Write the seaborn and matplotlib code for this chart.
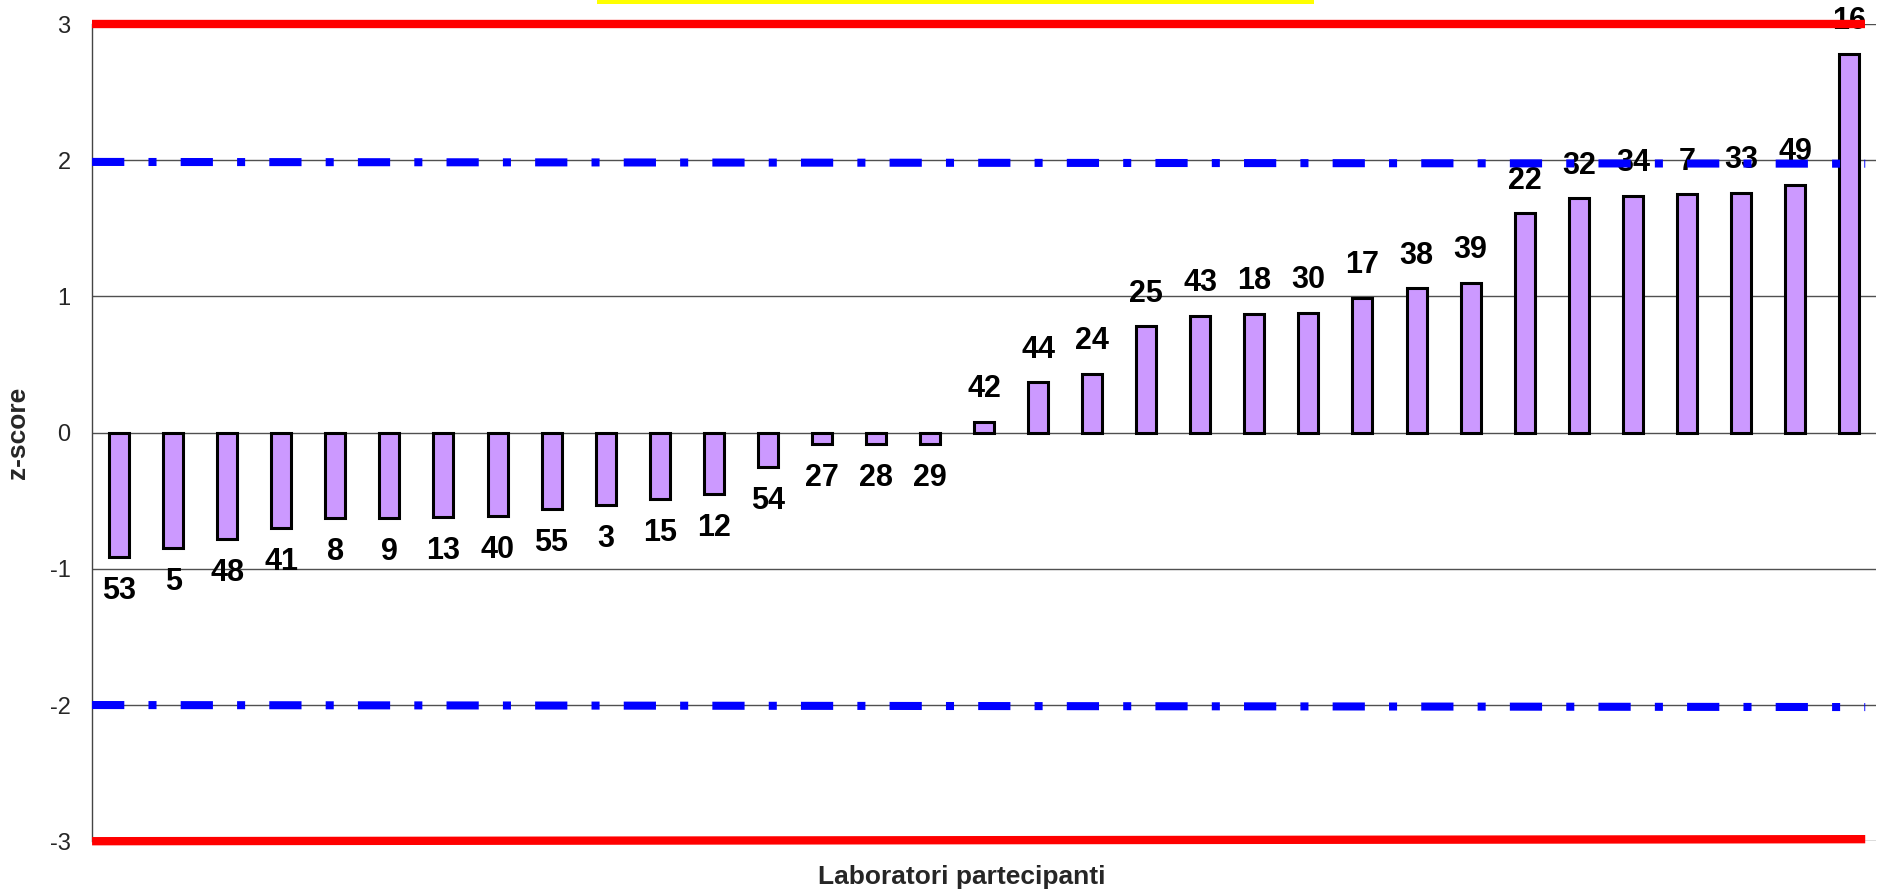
import pandas as pd
import seaborn as sns
import matplotlib.pyplot as plt
from matplotlib.patches import Rectangle

# Dati: codici laboratorio e z-score (ordinati)
labs = ["53", "5", "48", "41", "8", "9", "13", "40", "55", "3", "15", "12", "54",
        "27", "28", "29", "42", "44", "24", "25", "43", "18", "30", "17", "38",
        "39", "22", "32", "34", "7", "33", "49", "16"]
zscores = [-0.91, -0.85, -0.78, -0.70, -0.63, -0.63, -0.62, -0.61, -0.56, -0.53,
           -0.49, -0.45, -0.25, -0.08, -0.08, -0.08, 0.08, 0.37, 0.43, 0.78,
           0.86, 0.87, 0.88, 0.99, 1.06, 1.10, 1.61, 1.72, 1.74, 1.75, 1.76,
           1.82, 2.78]
yticks = [-3, -2, -1, 0, 1, 2, 3]
# limiti (estremo sinistro, estremo destro), leggermente inclinati come nell'originale
warn_upper = [1.988, 1.975]
warn_lower = [-2.0, -2.015]
action_upper = [3.0, 3.0]
action_lower = [-3.0, -2.985]


def create_chart(df):
    sns.set_style("white")
    plt.rcParams['font.family'] = ['Liberation Sans', 'DejaVu Sans']

    fig = plt.figure(figsize=(18.83, 8.93), dpi=100)
    ax = fig.add_axes([0.0489, 0.058, 0.9474, 0.915])

    # griglia orizzontale
    for y in yticks:
        ax.axhline(y, color="#505050", linewidth=1.0, zorder=0)

    sns.barplot(data=df, x="lab", y="z", color="#CC99FF", saturation=1,
                edgecolor="black", linewidth=2.2, width=0.37, ax=ax, zorder=2)

    # etichette dei laboratori
    for i, (lab, z) in enumerate(zip(df["lab"], df["z"])):
        off = 0.24 if z >= 0 else -0.25
        ax.text(i, z + off, lab, ha="center", va="center", fontsize=22,
                fontweight="bold", color="black", zorder=3)

    # limiti di avvertimento e di azione
    n = len(df)
    xs = [-0.5, n - 0.5 - 0.2]
    for ys in [warn_upper, warn_lower]:
        ax.plot(xs, ys, color="#0000FF", linewidth=5.8, linestyle=(0, (4, 3, 1, 3)),
                dash_capstyle="butt", zorder=4)
    for ys in [action_upper, action_lower]:
        ax.plot(xs, ys, color="#FF0000", linewidth=6, zorder=5,
                clip_on=False, solid_capstyle="butt")

    ax.set_ylim(-3, 3)
    ax.set_xlim(-0.5, n - 0.5)
    ax.set_yticks(yticks)
    ax.set_yticklabels([str(t) for t in yticks], fontsize=17)
    ax.set_xticks([])
    ax.tick_params(axis="y", direction="out", length=5.5, width=1, color="#505050", pad=10)

    for s in ["top", "right", "bottom"]:
        ax.spines[s].set_visible(False)
    ax.spines["left"].set_color("#444444")
    ax.spines["left"].set_linewidth(1)

    ax.set_xlabel("Laboratori partecipanti", fontsize=19, fontweight="bold")
    ax.xaxis.set_label_coords(0.4877, -0.029)
    ax.set_ylabel("z-score", fontsize=19, fontweight="bold", labelpad=14)

    # banda gialla del titolo (tagliata in alto)
    fig.patches.append(Rectangle((0.317, 0.995), 0.381, 0.01, transform=fig.transFigure,
                                 facecolor="#FFFF00", edgecolor="none"))

    fig.savefig("out.png", dpi=100)


def main():
    df = pd.DataFrame({"lab": labs, "z": zscores})
    create_chart(df)


if __name__ == "__main__":
    main()
